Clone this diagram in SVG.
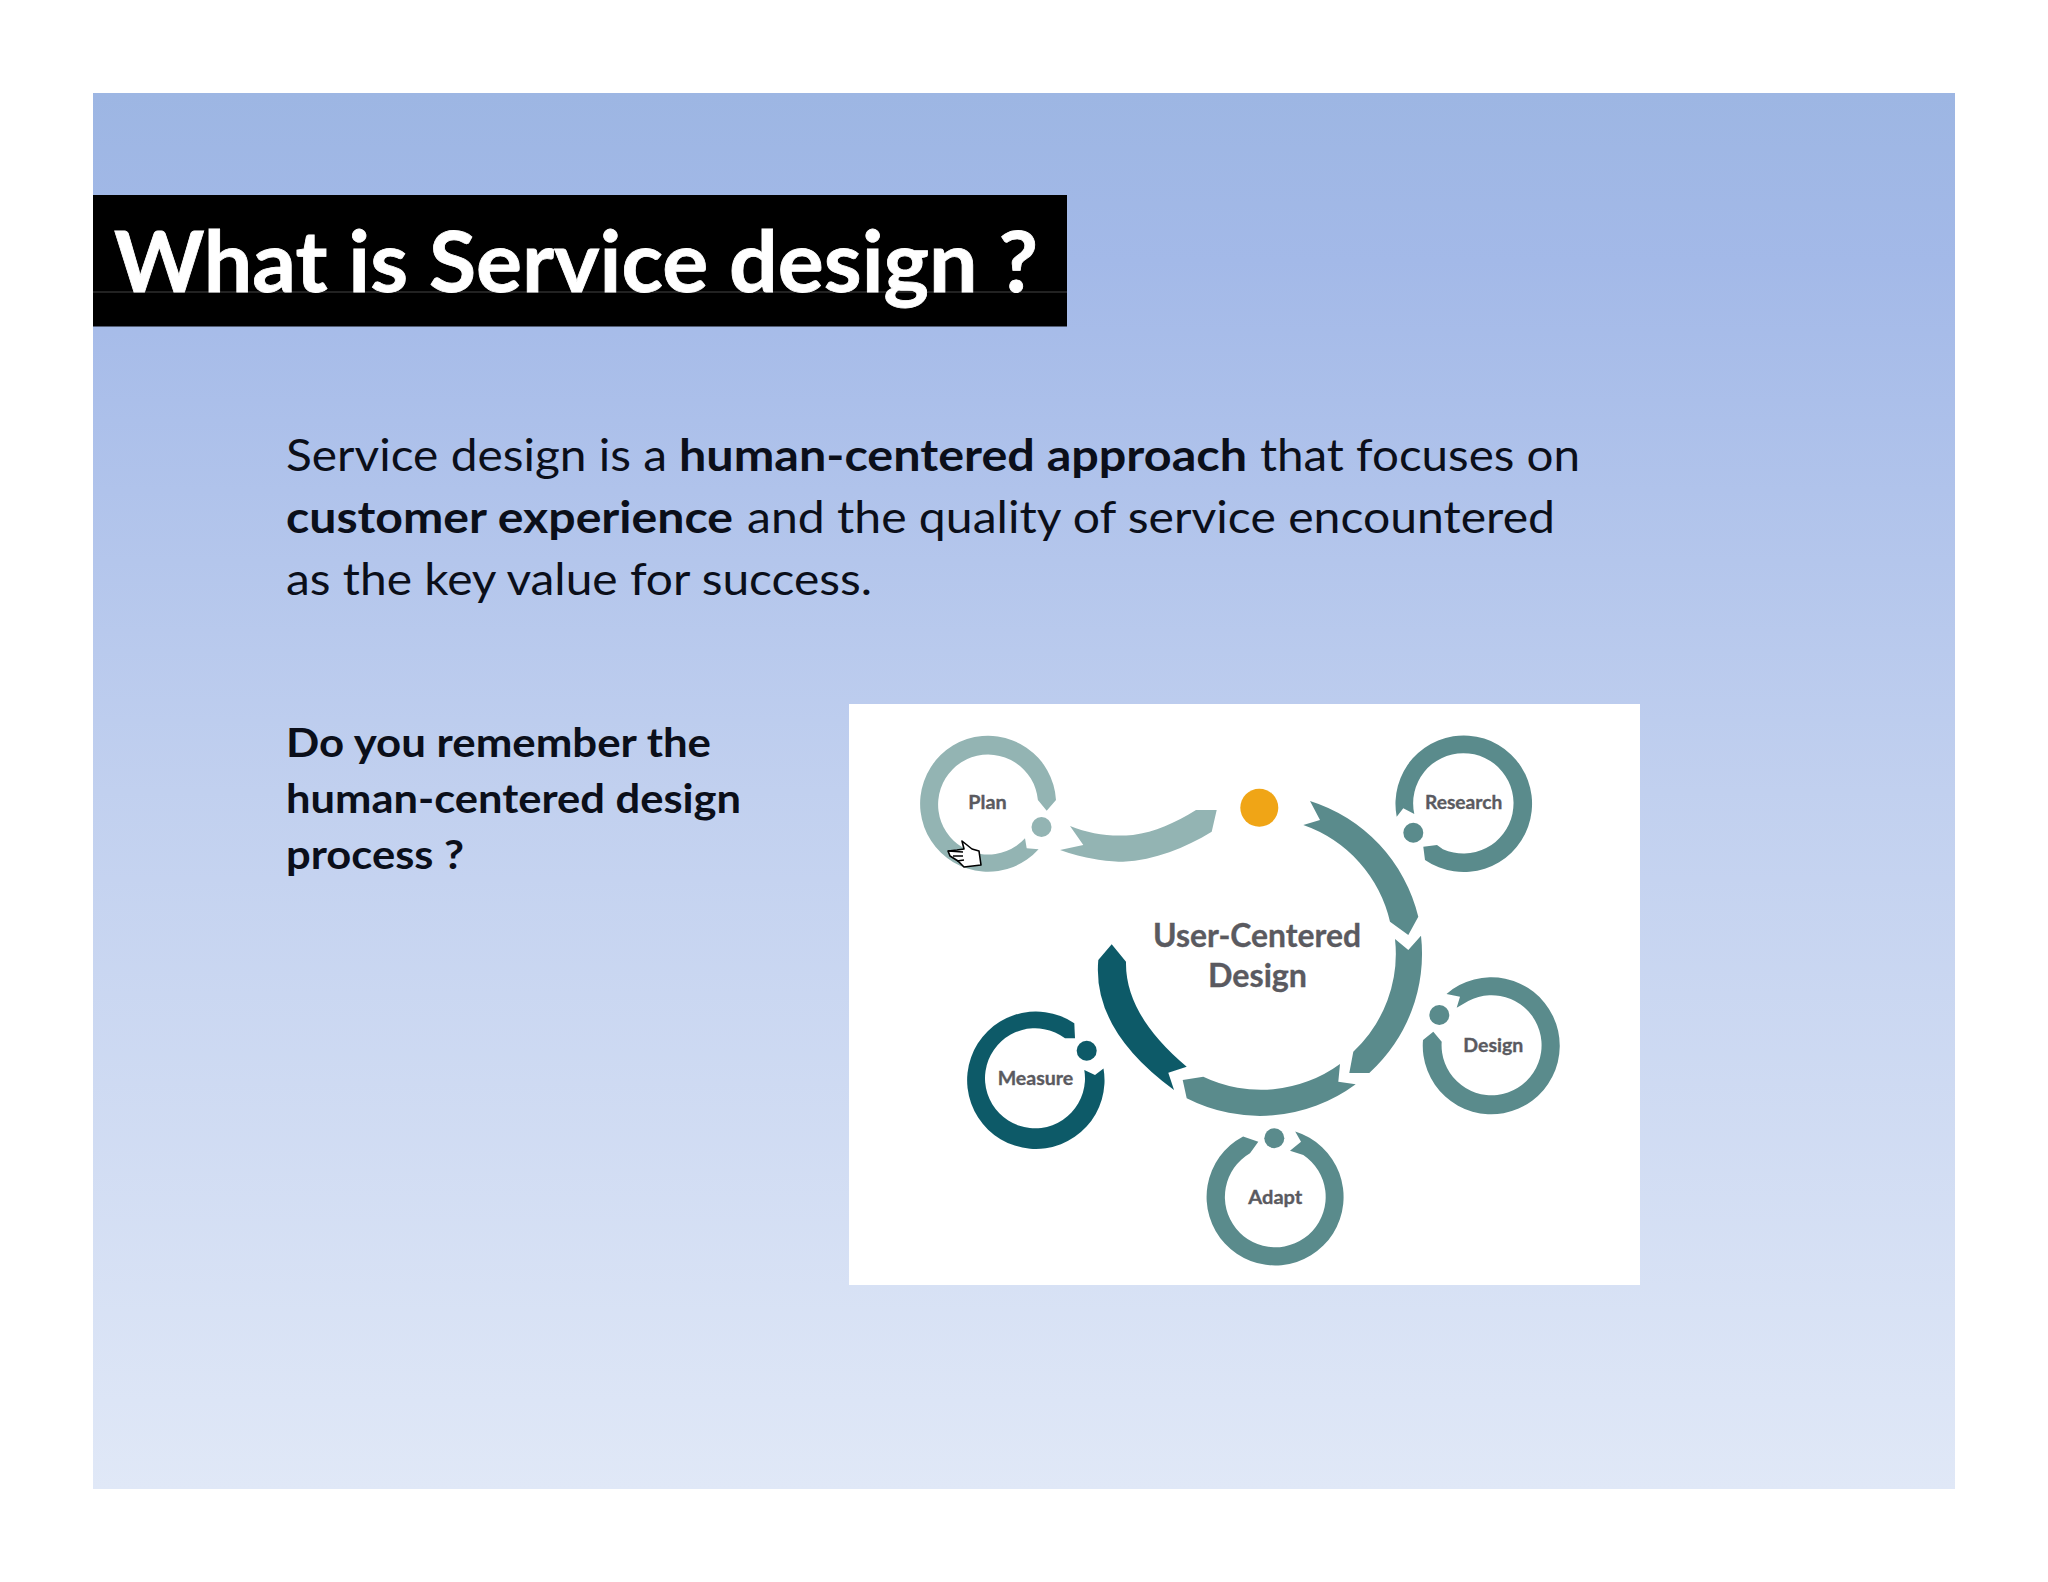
<svg xmlns="http://www.w3.org/2000/svg" width="2048" height="1582" viewBox="0 0 2048 1582">
<style>
text{font-family:"Lato","Liberation Sans",sans-serif}
.body{font-size:44.5px;fill:#0b0f1a}
.b{font-weight:700}
.sub{font-size:40px;font-weight:700;fill:#0b0f1a}
.lbl{font-weight:700;fill:#5a5a60;stroke:#5a5a60;stroke-width:.35px}
.s{font-size:19.5px}
.m{font-size:32px}
.c1{fill:#93b4b3}.c2{fill:#5a8b8c}.c3{fill:#0d5a68}
.soft{filter:url(#soft)}
</style>
<defs>
<linearGradient id="bg" x1="0" y1="0" x2="0" y2="1">
<stop offset="0" stop-color="#9db6e3"/>
<stop offset=".12" stop-color="#a3b9e8"/>
<stop offset=".5" stop-color="#c1d0ef"/>
<stop offset="1" stop-color="#e0e8f7"/>
</linearGradient>
<filter id="soft" x="-5%" y="-5%" width="110%" height="110%"><feGaussianBlur stdDeviation=".6"/></filter>
</defs>
<rect width="2048" height="1582" fill="#fff"/>
<rect x="93" y="93" width="1862" height="1396" fill="url(#bg)"/>
<g id="title">
<rect x="93" y="195" width="974" height="131.500" fill="#000"/>
<rect x="93" y="291.500" width="974" height="1" fill="#444"/>
<text x="114" y="292" font-size="85" font-weight="700" fill="#fff" stroke="#fff" stroke-width=".8" textLength="924" lengthAdjust="spacingAndGlyphs">What is Service design ?</text>
</g>
<g id="body">
<text class="body" x="286" y="470.500" textLength="381" lengthAdjust="spacingAndGlyphs">Service design is a</text>
<text class="body b" x="679" y="470.500" textLength="568" lengthAdjust="spacingAndGlyphs">human-centered approach</text>
<text class="body" x="1260" y="470.500" textLength="320" lengthAdjust="spacingAndGlyphs">that focuses on</text>
<text class="body b" x="286" y="532.500" textLength="447" lengthAdjust="spacingAndGlyphs">customer experience</text>
<text class="body" x="747" y="532.500" textLength="808" lengthAdjust="spacingAndGlyphs">and the quality of service encountered</text>
<text class="body" x="286" y="594.500" textLength="586" lengthAdjust="spacingAndGlyphs">as the key value for success.</text>
</g>
<g id="question">
<text class="sub" x="286" y="756.500" textLength="425" lengthAdjust="spacingAndGlyphs">Do you remember the</text>
<text class="sub" x="286" y="812.500" textLength="455" lengthAdjust="spacingAndGlyphs">human-centered design</text>
<text class="sub" x="286" y="868.500" textLength="178" lengthAdjust="spacingAndGlyphs">process ?</text>
</g>
<rect id="panel" x="849" y="704" width="791" height="581" fill="#fff"/>
<g id="connectors" class="soft">
<path class="c1" d="M1070 826L1083.300 845L1060 850C1085 859 1110 862 1123 861.700C1155 860 1185 848 1211.700 831.700L1216.700 810H1196C1175 823 1155 832 1133 835C1110 837 1090 834 1070 826Z"/>
<path class="c2" d="M1310 801A161 161 0 0 1 1418.300 916.700L1408.300 935L1390 921.700A134 134 0 0 0 1303.300 825L1320 820Z"/>
<path class="c2" d="M1395 939L1408.300 950L1421 935.700A161 161 0 0 1 1369.300 1073H1349.300L1353.300 1051.700A134 134 0 0 0 1395 939Z"/>
<path class="c2" d="M1340 1064L1338.300 1081.700L1355.700 1084.300A161 161 0 0 1 1186.700 1098.300L1182.700 1080L1203.300 1076.700A134 134 0 0 0 1340 1064Z"/>
<path class="c3" d="M1111.700 944.300L1126 961.700Q1125 1015 1186.700 1066.700L1168.300 1072.700L1174 1090Q1092 1030 1098.300 960Z"/>
</g>
<g id="hub">
<circle class="soft" cx="1259.300" cy="807.700" r="19" fill="#f0a515"/>
<text class="lbl m" x="1153" y="946.500" textLength="208" lengthAdjust="spacingAndGlyphs">User-Centered</text>
<text class="lbl m" x="1208" y="986.500" textLength="99" lengthAdjust="spacingAndGlyphs">Design</text>
</g>
<g id="plan">
<g class="soft"><path class="c1" d="M1056 800A68 68 0 1 0 1038.600 849.300L1026.700 848.300L1025 838.300A50 50 0 1 1 1037.900 800L1046.700 810.700Z"/>
<circle class="c1" cx="1041.500" cy="827" r="10"/></g>
<text class="lbl s" x="968.300" y="809.300" textLength="38.400" lengthAdjust="spacingAndGlyphs">Plan</text>
</g>
<g id="research">
<g class="soft"><path class="c2" d="M1396.700 816.700A68.300 68.300 0 1 1 1425 860L1423.300 846.700L1437 845L1442.900 849.200A50.200 50.200 0 1 0 1414.300 814.100L1403.300 808.300Z"/>
<circle class="c2" cx="1413.300" cy="832.700" r="10"/></g>
<text class="lbl s" x="1425" y="809.300" textLength="77.300" lengthAdjust="spacingAndGlyphs">Research</text>
</g>
<g id="design">
<g class="soft"><path class="c2" d="M1446.500 993.900A68.500 68.500 0 1 1 1423 1040L1433.300 1031.700L1441.700 1041.700A50 50 0 1 0 1468.300 1001L1456.700 1007.700L1460 996.700Z"/>
<circle class="c2" cx="1439.300" cy="1015" r="10"/></g>
<text class="lbl s" x="1463.300" y="1052" textLength="60" lengthAdjust="spacingAndGlyphs">Design</text>
</g>
<g id="measure">
<g class="soft"><path class="c3" d="M1074.300 1023.300A68.700 68.700 0 1 0 1103.500 1068.400L1095 1075L1084.300 1070A50 50 0 1 1 1065 1038.300L1075 1038.300Z"/>
<circle class="c3" cx="1086.700" cy="1050.700" r="10"/></g>
<text class="lbl s" x="997.700" y="1085" textLength="75.600" lengthAdjust="spacingAndGlyphs">Measure</text>
</g>
<g id="adapt">
<g class="soft"><path class="c2" d="M1243.100 1136.400A68.500 68.500 0 1 0 1295.200 1131.500L1301 1141.700L1290 1150.700L1303.300 1155A50.400 50.400 0 1 1 1250 1153.300L1258.300 1141.700Z"/>
<circle class="c2" cx="1274.300" cy="1138.300" r="10"/></g>
<text class="lbl s" x="1248.300" y="1203.700" textLength="54" lengthAdjust="spacingAndGlyphs">Adapt</text>
</g>
<g id="cursor">
<path d="M962 841L972 849L979 851L981 865L964 867L958 861L950 856L948 851L957 850L964 849Z" fill="#fff" stroke="#000" stroke-width="1.600" stroke-linejoin="round"/>
<path d="M948 851L963 852M953 856L963 856M957 861L964 860" fill="none" stroke="#000" stroke-width="1.400"/>
</g>
</svg>
